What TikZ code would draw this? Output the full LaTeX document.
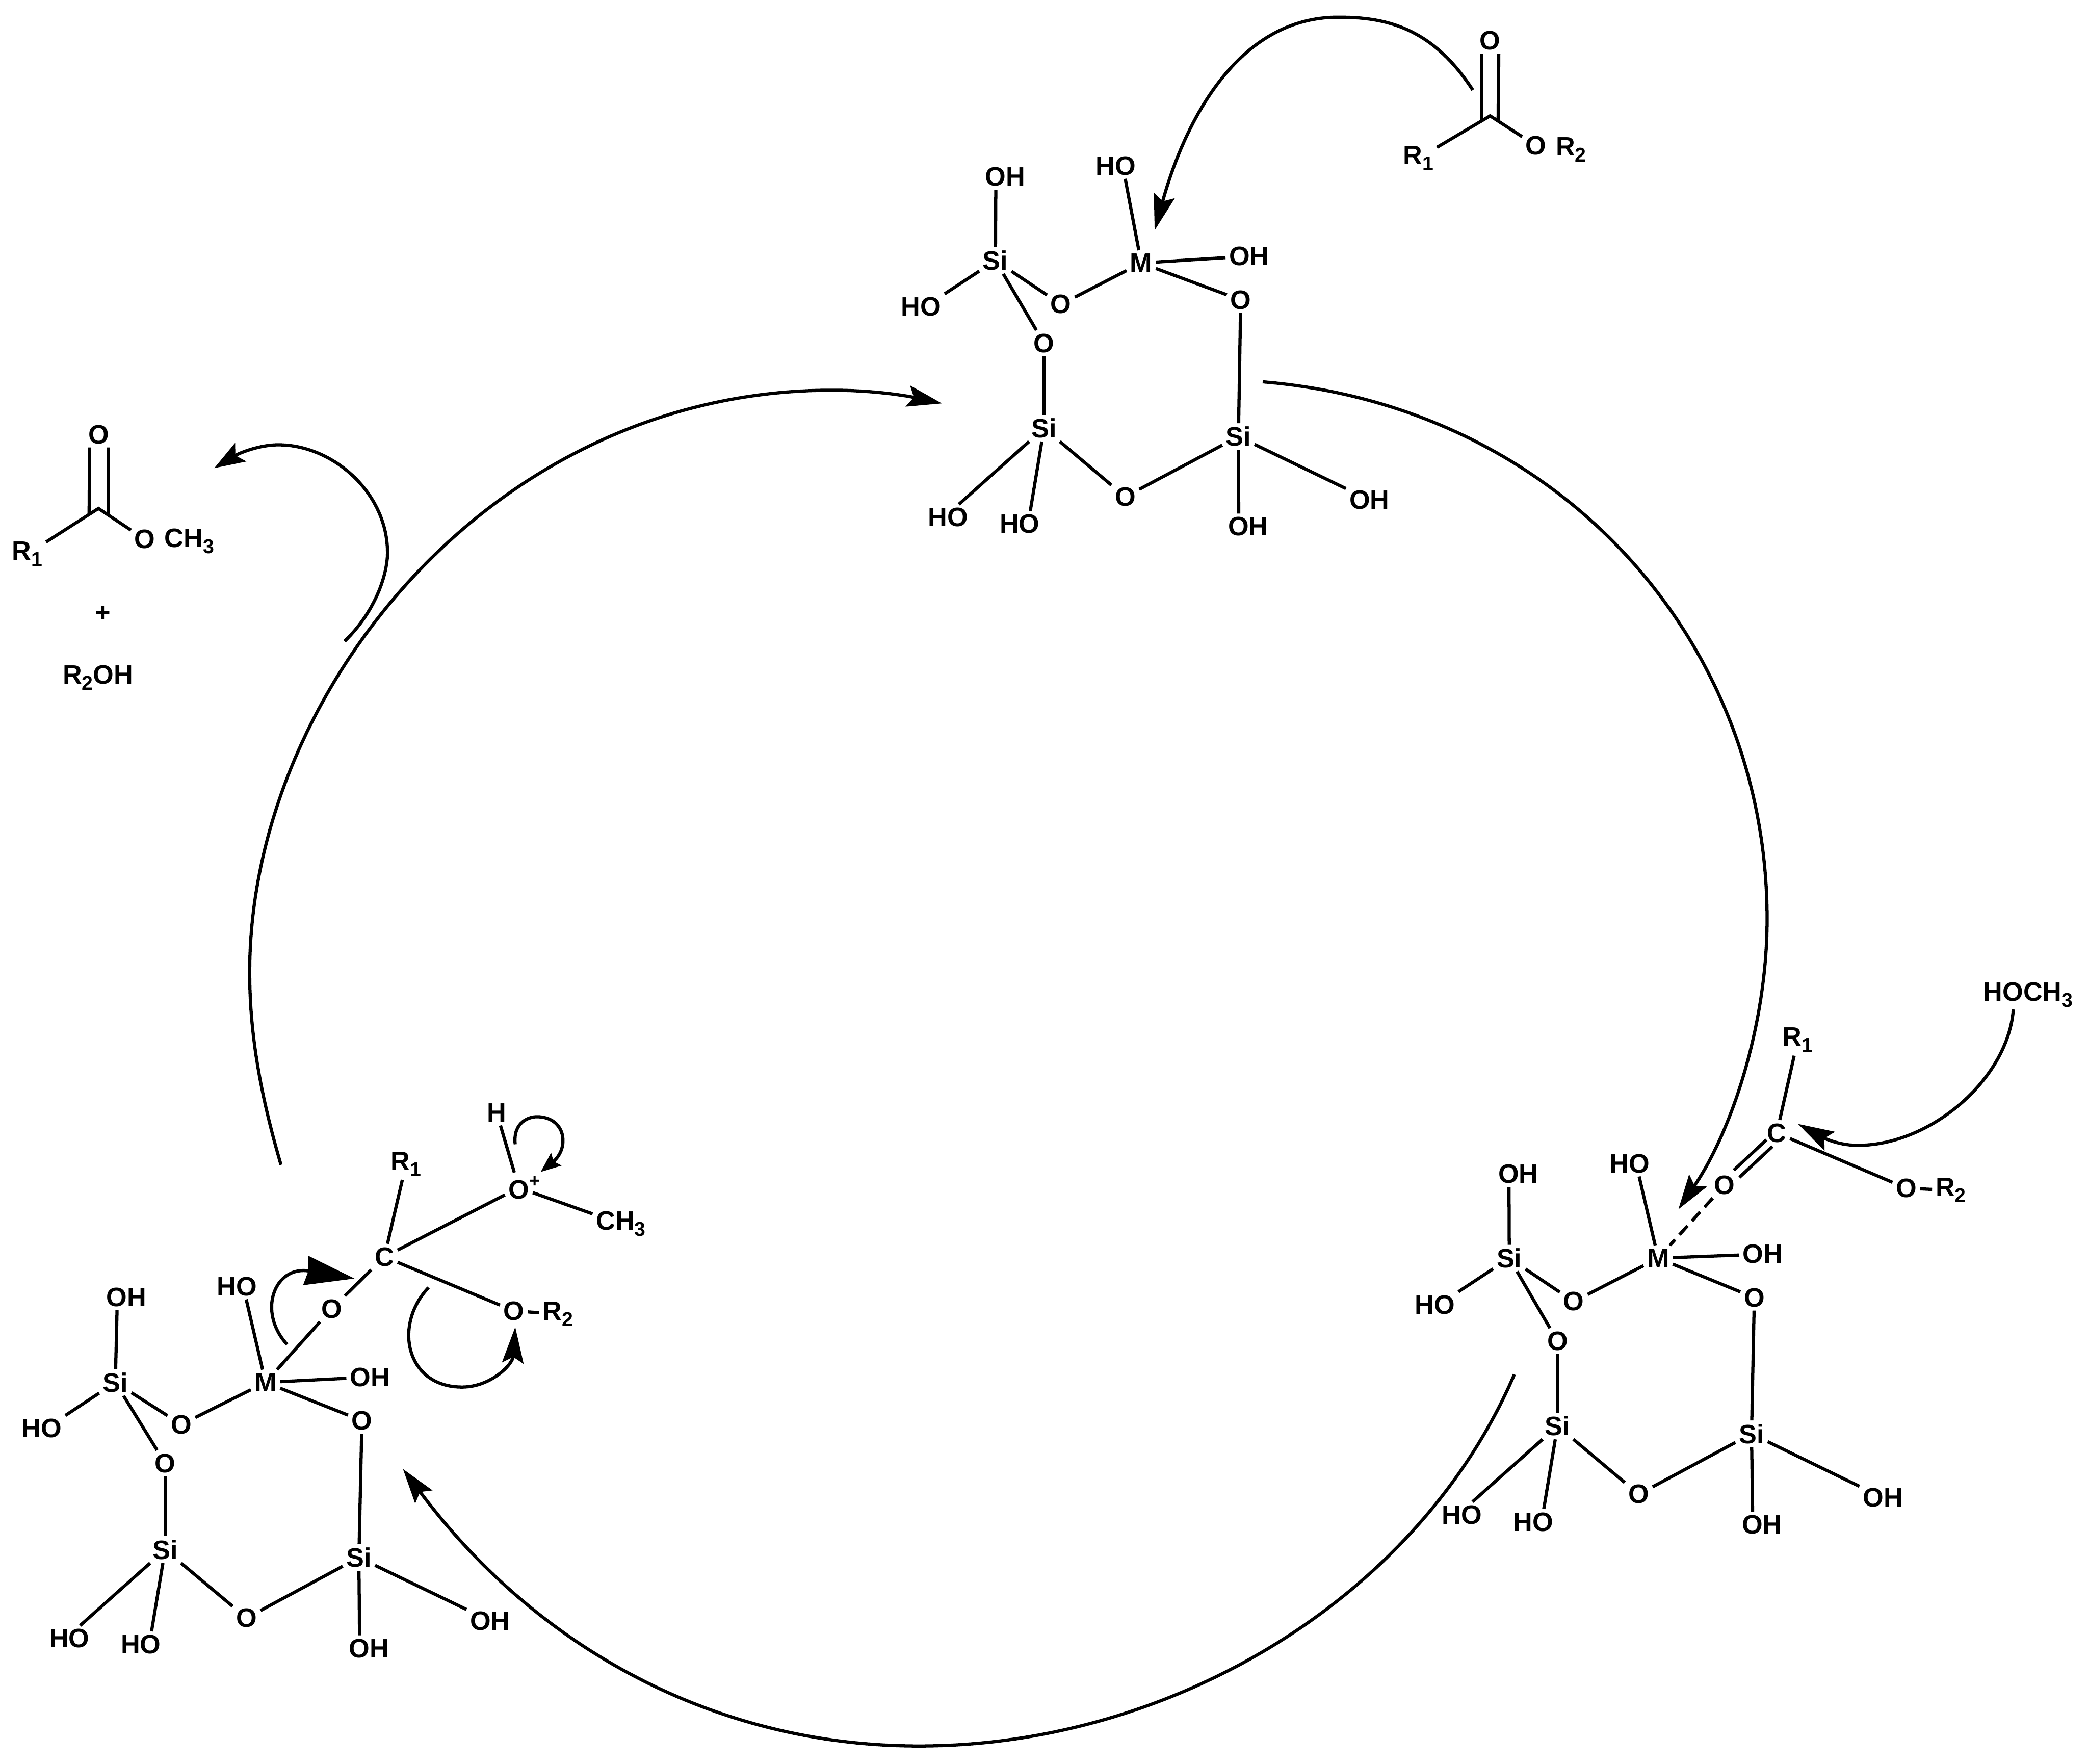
\documentclass[tikz,border=0pt]{standalone}
\usepackage{fontspec}
\usetikzlibrary{arrows.meta}
\setmainfont{Liberation Sans}
\newcommand{\sbs}[1]{\raisebox{-4.6pt}{\fontsize{15}{15}\selectfont #1}}
\newcommand{\bondset}[1]{%
  \draw[bond] (#1si1) -- ([xshift=-7pt]#1oh1.south);
  \draw[bond] (#1si1) -- (#1ho1.north east);
  \draw[bond] (#1si1) -- (#1oa);
  \draw[bond] (#1si1) -- (#1ob);
  \draw[bond] (#1oa) -- (#1m);
  \draw[bond] (#1m) -- ([xshift=7pt]#1ho2.south);
  \draw[bond] (#1m) -- (#1oh2);
  \draw[bond] (#1m) -- (#1oc);
  \draw[bond] (#1oc) -- (#1si3);
  \draw[bond] (#1ob) -- (#1si2);
  \draw[bond] (#1si2) -- (#1od);
  \draw[bond] (#1od) -- (#1si3);
  \draw[bond] (#1si3) -- (#1oh3);
  \draw[bond] (#1si3) -- ([xshift=-7pt]#1oh4.north);
  \draw[bond] (#1si2) -- ([xshift=8pt]#1ho3.north);
  \draw[bond] (#1si2) -- ([xshift=8pt]#1ho4.north);
}
\tikzset{
  atom/.style={inner sep=2.5pt,font=\fontsize{20}{24}\selectfont\bfseries},
  heavy/.style={atom},
  bond/.style={line width=2.4pt,line cap=butt},
  dashbond/.style={bond,dash pattern=on 9pt off 5pt},
  arc/.style={line width=2.4pt,line join=round},
  headA/.style={arc,-{Stealth[length=26pt,width=16pt,inset=4.5pt]}},
  headB/.style={arc,-{Stealth[length=27pt,width=16pt,inset=4.5pt]}},
  headC/.style={arc,-{Stealth[length=37pt,width=22pt,inset=2pt]}},
  headD/.style={arc,-{Stealth[length=15pt,width=12pt,inset=2.5pt]}}
}
\begin{document}
\begin{tikzpicture}[x=1pt,y=-1pt]
\useasboundingbox (0,0) rectangle (1568,1324.2);
% ---- top ring
\node[heavy] (tsi1) at (747.5,195.6) {Si};
\node[atom] (toh1) at (754.8,132.7) {OH};
\node[atom] (tho1) at (691.7,230.4) {HO};
\node[atom] (toa) at (796.7,228.5) {O};
\node[atom] (tob) at (784,257.7) {O};
\node[heavy] (tm) at (857,197.5) {M};
\node[atom] (tho2) at (838,124.5) {HO};
\node[atom] (toh2) at (938,192.3) {OH};
\node[atom] (toc) at (931.7,225.2) {O};
\node[heavy] (tsi2) at (784,321.5) {Si};
\node[heavy] (tsi3) at (930,327.8) {Si};
\node[atom] (tod) at (845,373) {O};
\node[atom] (tho3) at (712,388.5) {HO};
\node[atom] (tho4) at (765.7,393.4) {HO};
\node[atom] (toh3) at (1028.4,375.4) {OH};
\node[atom] (toh4) at (937.2,395.4) {OH};
\bondset{t}
% ---- right ring
\node[heavy] (rsi1) at (1133.4,944.7) {Si};
\node[atom] (roh1) at (1140.2,881.6) {OH};
\node[atom] (rho1) at (1077.5,979.7) {HO};
\node[atom] (roa) at (1181.8,977.3) {O};
\node[atom] (rob) at (1169.6,1007) {O};
\node[heavy] (rm) at (1245.2,944.7) {M};
\node[atom] (rho2) at (1223.9,873.6) {HO};
\node[atom] (roh2) at (1323.8,941.7) {OH};
\node[atom] (roc) at (1317.4,974.3) {O};
\node[heavy] (rsi2) at (1169.6,1070.7) {Si};
\node[heavy] (rsi3) at (1315.3,1076.6) {Si};
\node[atom] (rod) at (1230.6,1122) {O};
\node[atom] (rho3) at (1097.8,1137.4) {HO};
\node[atom] (rho4) at (1151.3,1142.7) {HO};
\node[atom] (roh3) at (1414,1124.6) {OH};
\node[atom] (roh4) at (1323.1,1144.8) {OH};
\bondset{r}
% ---- left ring
\node[heavy] (lsi1) at (86.6,1038) {Si};
\node[atom] (loh1) at (94.9,973.9) {OH};
\node[atom] (lho1) at (31.4,1072.6) {HO};
\node[atom] (loa) at (136.2,1069.6) {O};
\node[atom] (lob) at (124,1098.7) {O};
\node[heavy] (lm) at (199.4,1038) {M};
\node[atom] (lho2) at (177.9,965.9) {HO};
\node[atom] (loh2) at (277.8,1034) {OH};
\node[atom] (loc) at (271.8,1066.7) {O};
\node[heavy] (lsi2) at (124,1163.6) {Si};
\node[heavy] (lsi3) at (269.5,1169.5) {Si};
\node[atom] (lod) at (185.2,1214.9) {O};
\node[atom] (lho3) at (52.2,1230.3) {HO};
\node[atom] (lho4) at (105.8,1234.7) {HO};
\node[atom] (loh3) at (368,1217) {OH};
\node[atom] (loh4) at (277,1237.7) {OH};
\bondset{l}
% ---- top ester
\node[atom] (eo1) at (1119,30.6) {O};
\coordinate (ec) at (1119,87);
\node[atom] (er1) at (1065,119) {R\sbs{1}};
\node[atom] (eo2) at (1153.5,109.4) {O};
\node[atom] (er2) at (1179.8,112.2) {R\sbs{2}};
\draw[bond] ([xshift=-6.5pt]eo1.south) -- ([xshift=-6.5pt,yshift=-3pt]ec);
\draw[bond] ([xshift=6.5pt]eo1.south) -- ([xshift=6pt,yshift=-3pt]ec);
\draw[bond,line join=miter] (er1) -- (ec) -- (eo2);
% ---- right carbonyl
\node[atom] (rc) at (1334.3,850.7) {C};
\node[atom] (rco) at (1295,889.9) {O};
\node[atom] (rr1) at (1350,780.8) {R\sbs{1}};
\node[atom] (roo) at (1431.6,892.2) {O};
\node[atom] (rr2) at (1465,893.7) {R\sbs{2}};
\node[atom] (rme) at (1523,747) {HOCH\sbs{3}};
\draw[bond] (rc) -- (rr1);
\draw[bond] ([shift={(-7.8,5.1)}]rc.center) -- ([shift={(7.1,-11.3)}]rco.center);
\draw[bond] ([shift={(-3.3,10.1)}]rc.center) -- ([shift={(11.2,-5.9)}]rco.center);
\draw[bond] (rc) -- (roo);
\draw[bond] (roo) -- (rr2);
\draw[dashbond] (rco) -- (rm);
% ---- left tetrahedral carbon
\node[atom] (lc) at (288.7,943.7) {C};
\node[atom] (lco) at (249,982.8) {O};
\node[atom] (lr1) at (304.9,874) {R\sbs{1}};
\node[atom] (lop) at (389.6,891.8) {O\rlap{\raisebox{0.45em}{\fontsize{14}{14}\selectfont +}}};
\node[atom] (lh) at (373,835.5) {H};
\node[atom] (lme) at (466.3,919) {CH\sbs{3}};
\node[atom] (loo) at (385.9,984.3) {O};
\node[atom] (lr2) at (419,986.7) {R\sbs{2}};
\draw[bond] (lc) -- (lr1);
\draw[bond] (lc) -- (lop);
\draw[bond] (lop) -- (lh);
\draw[bond] (lop) -- (lme);
\draw[bond] (lc) -- (loo);
\draw[bond] (loo) -- (lr2);
\draw[bond] (lc) -- (lco);
\draw[bond] (lco) -- (lm);
% ---- products
\node[atom] (po) at (74.3,326.2) {O};
\coordinate (pc) at (73.9,381.8);
\node[atom] (pr1) at (20.5,416) {R\sbs{1}};
\node[atom] (poo) at (108.8,405) {O};
\node[atom] (pme) at (142.2,406.5) {CH\sbs{3}};
\node[atom] (pplus) at (77.4,461) {+};
\node[atom] (proh) at (73.5,508.7) {R\sbs{2}OH};
\draw[bond] ([xshift=-7pt]po.south) -- ([xshift=-7pt,yshift=-4pt]pc);
\draw[bond] ([xshift=7pt]po.south) -- ([xshift=7.5pt,yshift=-4pt]pc);
\draw[bond,line join=miter] (pr1) -- (pc) -- (poo);
% ---- big cycle arcs
\coordinate (a1s) at (948.2,286.7); \coordinate (a1m) at (1327,690); \coordinate (a1e) at (1260.4,908);
\draw[headA] (a1s) .. controls (1170,305) and (1327,480) .. (a1m) .. controls (1327,770) and (1300,850) .. (a1e);
\coordinate (a2s) at (1137.2,1032); \coordinate (a2m) at (690,1311); \coordinate (a2e) at (302.6,1103);
\draw[headA] (a2s) .. controls (1065,1200) and (880,1311) .. (a2m) .. controls (540,1311) and (405,1240) .. (a2e);
\coordinate (a3s) at (211,874.6); \coordinate (a3m) at (187.5,730); \coordinate (a3n) at (625,293); \coordinate (a3e) at (707.3,302.9);
\draw[headA] (a3s) .. controls (195,820) and (187.5,775) .. (a3m) .. controls (187.5,520) and (370,293) .. (a3n) .. controls (655,293) and (680,297) .. (a3e);
% ---- reagent and product arrows
\coordinate (a4s) at (1106,67.6); \coordinate (a4m) at (1005,12.9); \coordinate (a4e) at (867.1,172.9);
\draw[headB] (a4s) .. controls (1075,20) and (1040,12.9) .. (a4m) .. controls (930,12.9) and (890,90) .. (a4e);
\coordinate (a5s) at (1511.9,758); \coordinate (a5m) at (1395,860); \coordinate (a5e) at (1350.2,843.9);
\draw[headB] (a5s) .. controls (1508,810) and (1450,860) .. (a5m) .. controls (1378,860) and (1365,852) .. (a5e);
\coordinate (a6s) at (258.8,481.5); \coordinate (a6m) at (291,415); \coordinate (a6n) at (209,334); \coordinate (a6e) at (160.9,351.5);
\draw[arc,-{Stealth[length=23pt,width=16pt,inset=4.5pt]}] (a6s) .. controls (283,458) and (291,430) .. (a6m) .. controls (291,370) and (250,334) .. (a6n) .. controls (195,334) and (180,340) .. (a6e);
% ---- mechanism arrows
\coordinate (a7s) at (215.6,1009.5); \coordinate (a7e) at (266.2,960);
\draw[headC] (a7s) .. controls (193,985) and (206,950) .. (a7e);
\coordinate (a8s) at (321.8,966.8); \coordinate (a8m) at (347,1041.5); \coordinate (a8e) at (386.9,996.4);
\draw[headB] (a8s) .. controls (295,995) and (305,1041.5) .. (a8m) .. controls (368,1041.5) and (385,1025) .. (a8e);
\coordinate (a9s) at (386.9,859.2); \coordinate (a9m) at (403,838.5); \coordinate (a9e) at (406,880);
\draw[headD] (a9s) .. controls (385,842) and (398,838.5) .. (a9m) .. controls (425,838.5) and (428,862) .. (a9e);
\end{tikzpicture}
\end{document}
